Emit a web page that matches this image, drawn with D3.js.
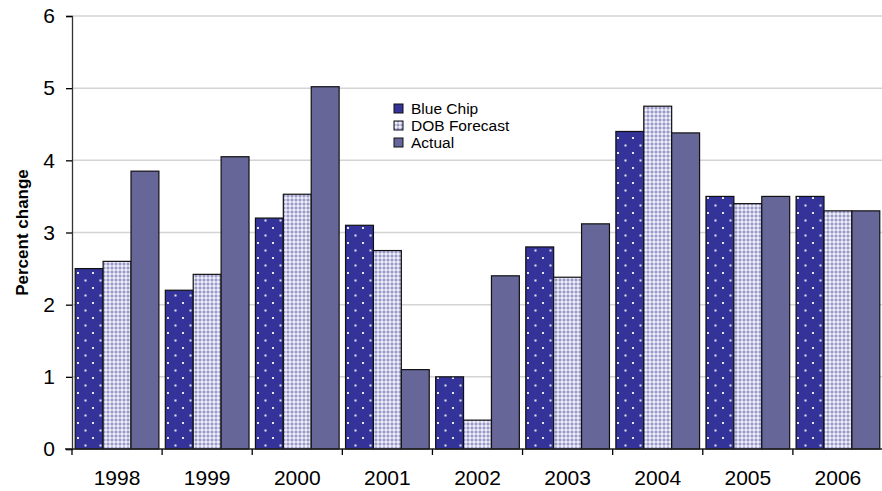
<!DOCTYPE html>
<html>
<head>
<meta charset="utf-8">
<script src="https://cdn.jsdelivr.net/npm/d3@7"></script>
<style>
  html, body { margin: 0; padding: 0; background: #fff; }
  svg { display: block; font-family: "Liberation Sans", Arial, sans-serif; }
</style>
</head>
<body>
<svg id="chart" width="882" height="491"></svg>
<script>
// Annual percent change: forecasts vs. actual
const years = ["1998", "1999", "2000", "2001", "2002", "2003", "2004", "2005", "2006"];
const blueChip = [2.5, 2.2, 3.2, 3.1, 1.0, 2.8, 4.4, 3.5, 3.5];
const dobForecast = [2.6, 2.42, 3.53, 2.75, 0.4, 2.38, 4.75, 3.4, 3.3];
const actual = [3.85, 4.05, 5.02, 1.1, 2.4, 3.12, 4.38, 3.5, 3.3];
const seriesNames = ["Blue Chip", "DOB Forecast", "Actual"];
const yTicks = [0, 1, 2, 3, 4, 5, 6];

const svg = d3.select("#chart");
const margin = { top: 16, left: 72, bottom: 42 };
const width = 882, height = 491;
const plotRight = 883;
const plotBottom = height - margin.bottom;

// Fill patterns for the three series
const defs = svg.append("defs");
const dots = defs.append("pattern").attr("id", "pat-dots")
  .attr("patternUnits", "userSpaceOnUse").attr("width", 15).attr("height", 15);
dots.append("rect").attr("width", 15).attr("height", 15).attr("fill", "#333399");
dots.append("rect").attr("x", 2).attr("y", 2).attr("width", 2).attr("height", 2).attr("fill", "#e6e6f5");
dots.append("rect").attr("x", 9.5).attr("y", 9.5).attr("width", 2).attr("height", 2).attr("fill", "#e6e6f5");

// Lavender lattice with white crosses
const check = defs.append("pattern").attr("id", "pat-check")
  .attr("patternUnits", "userSpaceOnUse").attr("width", 4).attr("height", 4);
check.append("rect").attr("width", 4).attr("height", 4).attr("fill", "#9999cc");
check.append("rect").attr("x", 1.4).attr("y", 0.2).attr("width", 1.2).attr("height", 3.6).attr("fill", "#ffffff");
check.append("rect").attr("x", 0.2).attr("y", 1.4).attr("width", 3.6).attr("height", 1.2).attr("fill", "#ffffff");

const fills = ["url(#pat-dots)", "url(#pat-check)", "#666699"];
const legendFills = ["#333399", "url(#pat-check)", "#666699"];

const x = d3.scaleBand().domain(years).range([margin.left, plotRight]).paddingInner(0).paddingOuter(0);
const sub = d3.scaleBand().domain(seriesNames).range([0, x.bandwidth()]).paddingOuter(0.115).paddingInner(0);
const y = d3.scaleLinear().domain([0, 6]).range([plotBottom, margin.top]);

// Gridlines
svg.append("g").selectAll("line").data(yTicks.filter(d => d > 0)).join("line")
  .attr("x1", margin.left).attr("x2", width)
  .attr("y1", d => y(d)).attr("y2", d => y(d))
  .attr("stroke", "#d4d4d4").attr("stroke-width", 1.5);

// Bars
const data = [blueChip, dobForecast, actual];
const groups = svg.append("g").selectAll("g").data(seriesNames).join("g");
groups.each(function (name, si) {
  d3.select(this).selectAll("rect").data(data[si].map((v, i) => ({ year: years[i], v }))).join("rect")
    .attr("x", d => x(d.year) + sub(name))
    .attr("y", d => y(d.v))
    .attr("width", sub.bandwidth())
    .attr("height", d => y(0) - y(d.v))
    .attr("fill", fills[si])
    .attr("stroke", "#111")
    .attr("stroke-width", 1.2);
});

// Y axis
const yAxis = svg.append("g").attr("transform", `translate(${margin.left},0)`)
  .call(d3.axisLeft(y).tickValues(yTicks).tickFormat(d3.format("d")).tickSize(6).tickPadding(11));
yAxis.select(".domain").attr("stroke", "#333").attr("stroke-width", 1.3);
yAxis.selectAll(".tick line").attr("stroke", "#000").attr("stroke-width", 1.3);
yAxis.selectAll(".tick text").attr("font-size", 21).attr("fill", "#000")
  .attr("font-family", "'Liberation Sans', Arial, sans-serif");

// X axis with ticks at category boundaries
svg.append("line").attr("x1", margin.left - 7).attr("x2", width)
  .attr("y1", y(0)).attr("y2", y(0)).attr("stroke", "#222").attr("stroke-width", 1.3);
svg.append("g").selectAll("line").data(years).join("line")
  .attr("x1", d => x(d)).attr("x2", d => x(d))
  .attr("y1", y(0)).attr("y2", y(0) + 6)
  .attr("stroke", "#000").attr("stroke-width", 1.3);
svg.append("g").selectAll("text").data(years).join("text")
  .attr("x", d => x(d) + x.bandwidth() / 2)
  .attr("y", y(0) + 36)
  .attr("text-anchor", "middle")
  .attr("font-size", 21)
  .attr("fill", "#000")
  .text(d => d);

// Y axis title
svg.append("text")
  .attr("transform", `translate(28,${(y(0) + y(6)) / 2}) rotate(-90)`)
  .attr("text-anchor", "middle")
  .attr("font-size", 17)
  .attr("font-weight", "bold")
  .text("Percent change");

// Legend
const legend = svg.append("g").attr("transform", "translate(394,104)");
seriesNames.forEach((name, i) => {
  const g = legend.append("g").attr("transform", `translate(0,${i * 17})`);
  g.append("rect").attr("x", 0).attr("y", 0).attr("width", 9).attr("height", 9)
    .attr("fill", legendFills[i]).attr("stroke", "#111").attr("stroke-width", 1);
  g.append("text").attr("x", 17).attr("y", 10).attr("font-size", 15.5).attr("fill", "#000").text(name);
});
</script>
</body>
</html>
